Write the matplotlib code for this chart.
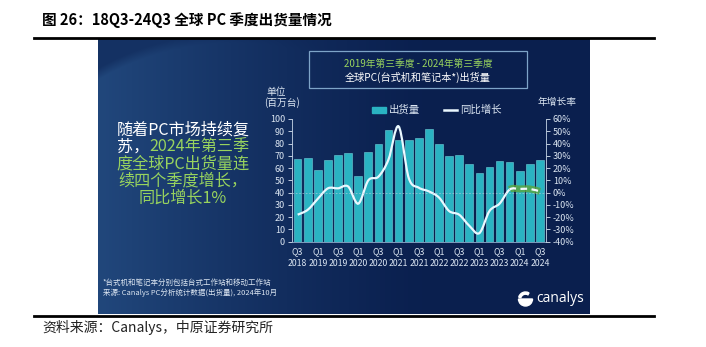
import matplotlib.pyplot as plt
import numpy as np
from matplotlib.lines import Line2D
from matplotlib.patches import PathPatch, Rectangle, Wedge
from matplotlib.path import Path
from matplotlib.ticker import FuncFormatter, MultipleLocator

plt.rcParams["font.family"] = ["Noto Sans CJK SC", "DejaVu Sans"]

W, H = 706, 347

quarters = [
    "Q3 2018", "Q4 2018", "Q1 2019", "Q2 2019", "Q3 2019", "Q4 2019",
    "Q1 2020", "Q2 2020", "Q3 2020", "Q4 2020", "Q1 2021", "Q2 2021",
    "Q3 2021", "Q4 2021", "Q1 2022", "Q2 2022", "Q3 2022", "Q4 2022",
    "Q1 2023", "Q2 2023", "Q3 2023", "Q4 2023", "Q1 2024", "Q2 2024",
    "Q3 2024",
]
# shipments, million units
shipments = [67.4, 68.5, 58.4, 66.8, 70.4, 72.0, 53.5, 73.0, 80.0, 91.0,
             82.7, 83.0, 84.5, 92.0, 80.0, 70.0, 70.4, 63.5, 55.7, 61.0,
             65.8, 65.2, 57.3, 63.3, 66.8]
# year-over-year growth, %
growth = [-18, -14, -5, 3.5, 3.5, 5, -9, 10, 13, 27, 54, 12, 4, 1, -4,
          -15, -18, -27, -33, -15, -9, 2.5, 3, 3, 1]
tick_labels = ["Q3\n2018", "Q1\n2019", "Q3\n2019", "Q1\n2020", "Q3\n2020",
               "Q1\n2021", "Q3\n2021", "Q1\n2022", "Q3\n2022", "Q1\n2023",
               "Q3\n2023", "Q1\n2024", "Q3\n2024"]
recovery_start = quarters.index("Q4 2023")

TEAL = "#2ab3c2"
GREEN = "#98d35e"
PALE = "#dce6f2"


def smooth_path(xs, ys, i0, i1):
    # Catmull-Rom style bezier through the points, like a smoothed Excel line
    pts = np.column_stack([xs, ys]).astype(float)
    n = len(pts)
    verts = [pts[i0]]
    codes = [Path.MOVETO]
    for i in range(i0, i1):
        p0, p1 = pts[max(i - 1, 0)], pts[i]
        p2, p3 = pts[i + 1], pts[min(i + 2, n - 1)]
        verts += [p1 + (p2 - p0) / 6, p2 - (p3 - p1) / 6, p2]
        codes += [Path.CURVE4] * 3
    return Path(verts, codes)


fig = plt.figure(figsize=(W / 100, H / 100), dpi=100)

# dark panel background
under = fig.add_axes([0, 0, 1, 1])
under.set_xlim(0, W)
under.set_ylim(H, 0)
under.axis("off")
gx, gy = np.meshgrid(np.arange(98, 590) + 0.5, np.arange(39, 314) + 0.5)
dark = np.array([10, 31, 78]) / 255
light = np.array([30, 66, 118]) / 255
f = np.clip(1 - (gx - 105) / 320, 0, 1) ** 1.3
corner = np.clip((np.hypot(gx - 235, gy - 315) - 272) / 10, 0, 1)
corner *= np.clip(1 - (gx - 98) / 260, 0, 1)
f = f * (1 - 0.6 * corner) + 0.12 * np.clip(1 - (gx - 98) / 400, 0, 1)
img = dark + (light - dark) * f[..., None]
under.imshow(img, extent=(98, 590, 314, 39), aspect="auto", interpolation="bilinear")

# chart
ax = fig.add_axes([292 / W, 1 - 241.7 / H, 254 / W, 122.7 / H])
ax.set_facecolor("none")
x = np.arange(len(quarters))
ax.bar(x, shipments, width=0.76, color=TEAL, edgecolor="#6fd0da", linewidth=0.4)
ax.set_xlim(-0.56, 24.6)
ax.set_ylim(0, 100)
ax.yaxis.set_major_locator(MultipleLocator(10))
ax.set_xticks(x[::2])
ax.set_xticklabels(tick_labels, linespacing=1.35)
ax.tick_params(axis="x", length=0, pad=4, labelsize=6.3, colors=PALE)
ax.tick_params(axis="y", length=3, width=0.6, pad=2, labelsize=6.5,
               colors=PALE, direction="out")
for side in ["top", "right"]:
    ax.spines[side].set_visible(False)
ax.spines["left"].set_color("#c8d6e8")
ax.spines["left"].set_linewidth(0.6)
ax.spines["bottom"].set_color("#8fb2cf")
ax.spines["bottom"].set_linewidth(0.6)

ax2 = ax.twinx()
ax2.set_ylim(-40, 60)
ax2.yaxis.set_major_locator(MultipleLocator(10))
ax2.yaxis.set_major_formatter(FuncFormatter(lambda v, p: f"{v:.0f}%"))
ax2.tick_params(axis="y", length=3, width=0.6, pad=2, labelsize=6.5,
                colors=PALE, direction="out")
for side in ["top", "left", "bottom"]:
    ax2.spines[side].set_visible(False)
ax2.spines["right"].set_color("#c8d6e8")
ax2.spines["right"].set_linewidth(0.6)
ax2.axhline(0, color="#b8cce0", lw=0.6, ls=(0, (2, 2)), alpha=0.7)

solid = smooth_path(x, growth, 0, recovery_start)
dashed = smooth_path(x, growth, recovery_start, len(x) - 1)
ax2.add_patch(PathPatch(solid, fill=False, edgecolor="#eaf8ff", lw=1.6))
ax2.add_patch(PathPatch(dashed, fill=False, edgecolor="#5aa63c", lw=5, alpha=0.8))
ax2.add_patch(PathPatch(dashed, fill=False, edgecolor="#f4fbff", lw=1.6,
                        linestyle=(0, (3, 2))))

# overlay for page and panel texts, in pixel coordinates
ov = fig.add_axes([0, 0, 1, 1])
ov.set_xlim(0, W)
ov.set_ylim(H, 0)
ov.axis("off")

ov.text(42, 20, "图 26：18Q3-24Q3 全球 PC 季度出货量情况", fontsize=10.5,
        fontweight="bold", va="center", ha="left", color="black")
ov.add_line(Line2D([34, 654], [38, 38], color="black", lw=2))
ov.add_line(Line2D([34, 654], [315.5, 315.5], color="black", lw=2))
ov.text(42, 327, "资料来源：Canalys，中原证券研究所", fontsize=10,
        va="center", ha="left", color="#222222")

# title box
ov.add_patch(Rectangle((309, 51), 218, 37, fill=False, edgecolor="#7ea4c8", lw=0.9))
ov.text(418, 64, "2019年第三季度 - 2024年第三季度", fontsize=7, color=GREEN,
        ha="center", va="center")
ov.text(418, 77, "全球PC(台式机和笔记本*)出货量", fontsize=7.3, color="white",
        ha="center", va="center")

# axis titles
ov.text(266, 92, "单位", fontsize=7, color=PALE, ha="left", va="center")
ov.text(264, 103, "(百万台)", fontsize=7, color=PALE, ha="left", va="center")
ov.text(538, 102, "年增长率", fontsize=7, color=PALE, ha="left", va="center")

# legend
ov.add_patch(Rectangle((372, 106.5), 14, 6, color=TEAL))
ov.text(389, 110, "出货量", fontsize=7.5, color=PALE, ha="left", va="center")
ov.add_line(Line2D([444, 457], [110, 110], color="#eaf8ff", lw=1.8))
ov.text(460, 110, "同比增长", fontsize=7.5, color=PALE, ha="left", va="center")

# left call-out, white then green
renderer = fig.canvas.get_renderer()
callout = [
    (130, [("随着PC市场持续复", "white")]),
    (147, [("苏，", "white"), ("2024年第三季", GREEN)]),
    (164, [("度全球PC出货量连", GREEN)]),
    (181, [("续四个季度增长，", GREEN)]),
    (198, [("同比增长1%", GREEN)]),
]
for y, parts in callout:
    widths = []
    for s, c in parts:
        t = ov.text(0, y, s, fontsize=11.6)
        widths.append(t.get_window_extent(renderer).width)
        t.remove()
    xpos = 183 - sum(widths) / 2
    for (s, c), w in zip(parts, widths):
        ov.text(xpos, y, s, fontsize=11.6, color=c, ha="left", va="center")
        xpos += w

# footnotes
ov.text(103, 283, "*台式机和笔记本分别包括台式工作站和移动工作站", fontsize=5.4,
        color=PALE, ha="left", va="center")
ov.text(103, 293, "来源: Canalys PC分析统计数据(出货量), 2024年10月", fontsize=5.4,
        color=PALE, ha="left", va="center")

# canalys logo
ov.add_patch(Wedge((525.5, 299), 7, 0, 180, color="white"))
ov.add_patch(Wedge((525.5, 299), 7, 195, 300, width=2.2, color="white"))
ov.text(536, 298, "canalys", fontsize=10, color="white", ha="left", va="center",
        family=["Open Sans", "DejaVu Sans"])

fig.savefig("out.png", dpi=100)
